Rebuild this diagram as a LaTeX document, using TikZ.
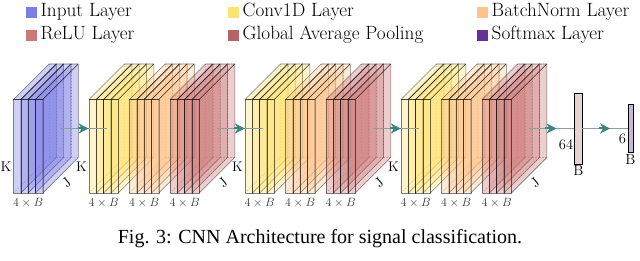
\documentclass[tikz,border=0pt]{standalone}
\usepackage{fontspec}
\newfontfamily\capfont{Liberation Serif}
\usetikzlibrary{arrows.meta,decorations.markings}
\definecolor{cin}{RGB}{125,125,230}
\definecolor{cconv}{RGB}{255,226,115}
\definecolor{cbn}{RGB}{255,196,140}
\definecolor{crelu}{RGB}{205,120,120}
\definecolor{cgap}{RGB}{180,100,100}
\definecolor{csoft}{RGB}{100,50,150}
\definecolor{cline}{RGB}{140,158,158}
\definecolor{chead}{RGB}{60,132,132}
\newcommand\cubslice[2]{%
  \pgfmathsetmacro\slxa{#1}%
  \pgfmathsetmacro\slxb{#1+7.33}%
  \draw[hid] (\slxa+35.5,102.5) -- (\slxa+35.5,196);
  \draw[hid] (\slxa+35.5,102.5) -- (\slxb+35.5,102.5);
  \draw[hid] (\slxa,67) -- (\slxa+35.5,102.5);
  \draw[slab=#2] (\slxa,67) rectangle (\slxb,160.5);
  \draw[slab=#2] (\slxa,160.5) -- (\slxb,160.5) -- (\slxb+35.5,196) -- (\slxa+35.5,196) -- cycle;
  \draw[slab=#2] (\slxb,67) -- (\slxb+35.5,102.5) -- (\slxb+35.5,196) -- (\slxb,160.5) -- cycle;
}
\newcommand\cubgroup[2]{\foreach \k in {0,1,2,3}{\cubslice{#1+\k*7.33}{#2}}}
\begin{document}
\begin{tikzpicture}[x=1pt,y=1pt,
  slab/.style={fill=#1, fill opacity=0.36, draw=black, draw opacity=0.5, line width=0.6pt, line join=round},
  hid/.style={draw=black, draw opacity=0.3, dash pattern=on 1.5pt off 1.5pt, line width=0.4pt},
  conn/.style={draw=cline, line width=1.4pt, postaction={decorate},
    decoration={markings, mark=at position 0.5 with {\draw[draw=chead, fill=chead, line width=2pt, -{Stealth[length=10pt,width=10pt,inset=3pt]}] (-6pt,0) -- (5pt,0);}}},
  lab/.style={font=\fontsize{14}{17}\selectfont, inner sep=0pt},
  xlab/.style={font=\fontsize{12.3}{15}\selectfont, inner sep=0pt, text=black!80},
  dlab/.style={font=\fontsize{14.5}{17}\selectfont, inner sep=0pt},
  lsq/.style={minimum size=11pt, inner sep=0pt, draw=none, fill=#1},
  ltx/.style={font=\fontsize{19.2}{22}\selectfont, inner sep=0pt, anchor=base west},
  densebox/.style={draw=black, line width=0.8pt, inner sep=0pt, fill=#1}
]
\useasboundingbox (0,0) rectangle (640,260);
% legend
\node[lsq=cin] (lg1) at (31.5,247.5) {};
\node[ltx] (lt1) at (40.5,243.3) {Input Layer};
\node[lsq=crelu] (lg2) at (31.5,224.5) {};
\node[ltx] (lt2) at (40.5,220) {ReLU Layer};
\node[lsq=cconv] (lg3) at (233.5,247.5) {};
\node[ltx] (lt3) at (242.5,243.3) {Conv1D Layer};
\node[lsq=cgap] (lg4) at (233.5,224.5) {};
\node[ltx] (lt4) at (242.5,220) {Global Average Pooling};
\node[lsq=cbn] (lg5) at (482.5,247.5) {};
\node[ltx] (lt5) at (491.5,243.3) {BatchNorm Layer};
\node[lsq=csoft] (lg6) at (482.5,224.5) {};
\node[ltx] (lt6) at (491.5,220) {Softmax Layer};
% blocks
\cubgroup{13.5}{cin}
\cubgroup{89}{cconv}
\cubgroup{129.5}{cbn}
\cubgroup{170}{crelu}
\cubgroup{245}{cconv}
\cubgroup{285.5}{cbn}
\cubgroup{326}{crelu}
\cubgroup{401}{cconv}
\cubgroup{441.5}{cbn}
\cubgroup{482}{crelu}
% labels
\foreach \gx/\nm in {13.5/a,89/b,129.5/c,170/d,245/e,285.5/f,326/g,401/h,441.5/i,482/j}
  \node[xlab] (cap\nm) at (\gx+14.67,57) {$4\times B$};
\foreach \gx/\nm in {13.5/a,89/b,245/c,401/d}
  \node[lab] (k\nm) at (\gx-7.5,93.5) {K};
\foreach \gx/\nm in {13.5/a,170/b,326/c,482/d}
  \node[lab, rotate=40] (j\nm) at (\gx+29.33+17.75+6,77.25) {J};
% dense layers
\node[densebox=cgap!30, minimum width=7.7pt, minimum height=70.7pt] (fc) at (578.15,131.35) {};
\node[densebox=csoft!35, minimum width=5pt, minimum height=47.6pt] (sm) at (630.8,131.5) {};
\node[dlab] (fcn) at (566,115.7) {64};
\node[dlab] (fcb) at (578.3,89.2) {B};
\node[dlab] (smn) at (622.5,121.5) {6};
\node[dlab] (smb) at (630.5,100) {B};
% connection points
\coordinate (in-e) at (60.58,131.5);
\coordinate (c1-w) at (106.75,131.5);
\coordinate (r1-e) at (217.08,131.5);
\coordinate (c2-w) at (262.75,131.5);
\coordinate (r2-e) at (373.08,131.5);
\coordinate (c3-w) at (418.75,131.5);
\coordinate (r3-e) at (529.08,131.5);
\draw[conn] (in-e) -- (c1-w);
\draw[conn] (r1-e) -- (c2-w);
\draw[conn] (r2-e) -- (c3-w);
\draw[conn] (r3-e) -- (fc.west |- r3-e);
\draw[conn] (fc.east |- r3-e) -- (sm.west |- r3-e);
% caption
\node[font=\capfont\fontsize{20}{24}\selectfont, inner sep=0pt, anchor=base] (figcap) at (320,17) {Fig. 3: CNN Architecture for signal classification.};
\end{tikzpicture}
\end{document}
